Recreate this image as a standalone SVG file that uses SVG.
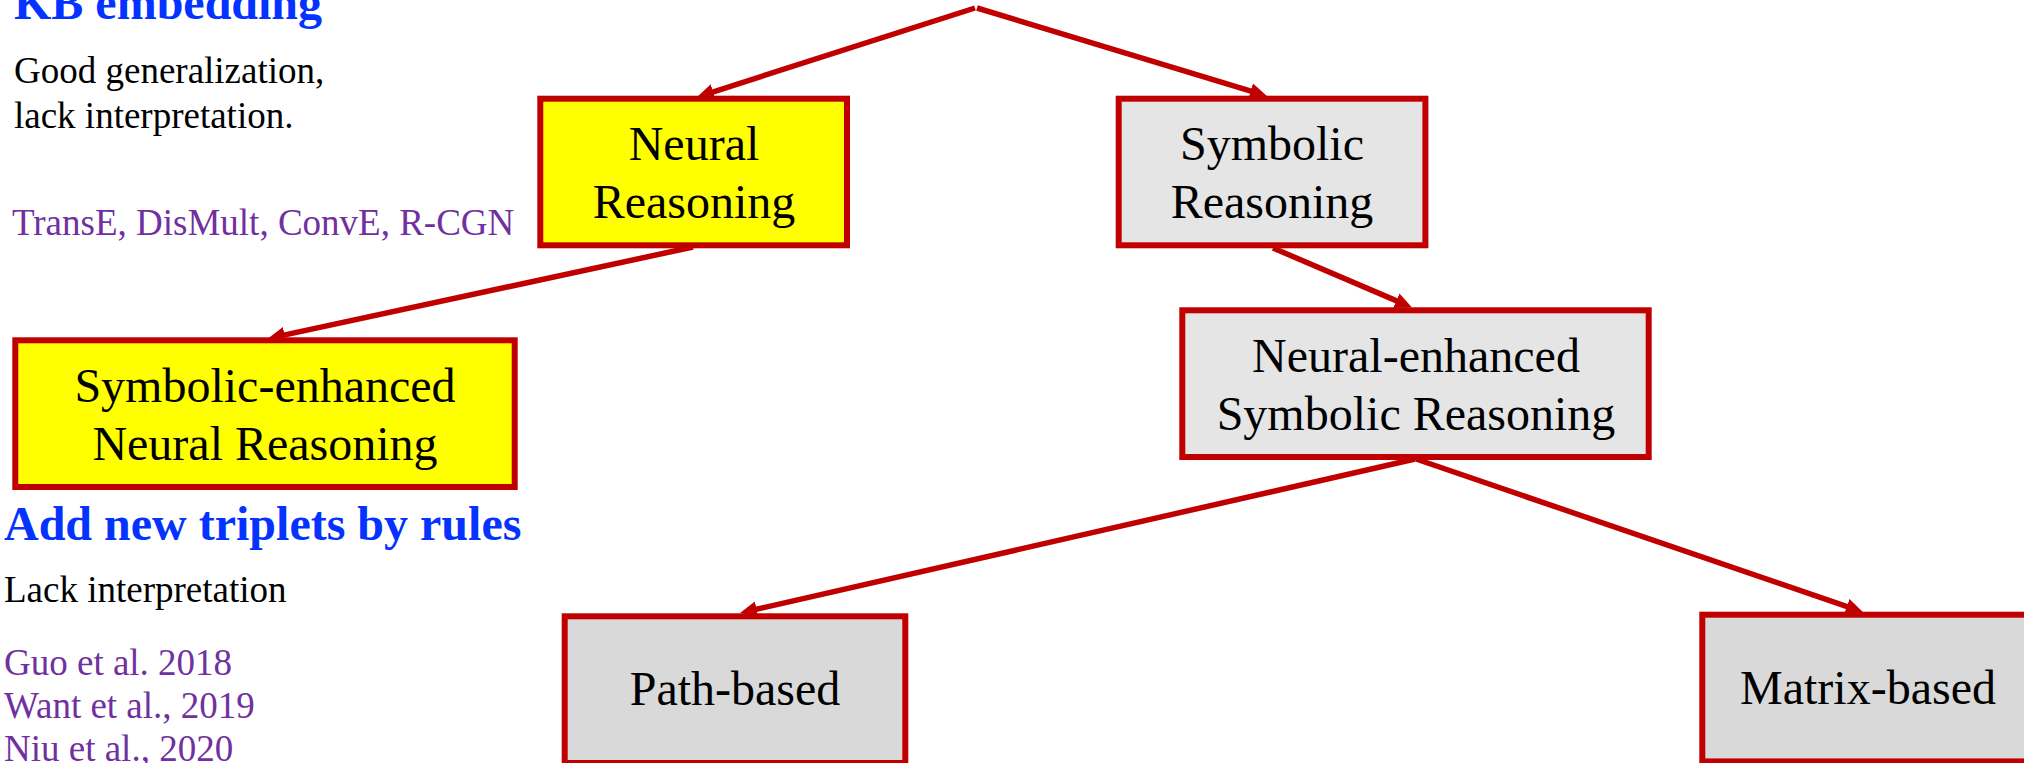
<svg xmlns="http://www.w3.org/2000/svg" width="2024" height="763" viewBox="0 0 2024 763">
<style>
text{font-family:"Liberation Serif","Times New Roman",serif;}
.node rect{stroke:#c00000;stroke-width:6;}
.yellow{fill:#ffff00;}
.gray1{fill:#e5e5e5;}
.gray2{fill:#d9d9d9;}
.lbl{font-size:48px;fill:#000;text-anchor:middle;}
.head{font-size:48px;font-weight:bold;fill:#0433ff;}
.note{font-size:37px;fill:#000;}
.ref{font-size:37px;fill:#7030a0;}
.conn line{stroke:#c00000;stroke-width:5.5;fill:none;marker-end:url(#ah);}
</style>
<defs>
<marker id="ah" markerUnits="userSpaceOnUse" markerWidth="20" markerHeight="18" refX="8" refY="8" orient="auto">
<path d="M0,0 L17,8 L0,16 z" fill="#c00000"/>
</marker>
</defs>
<rect width="2024" height="763" fill="#ffffff"/>

<g id="left-notes">
<text class="head" x="14" y="19">KB embedding</text>
<text class="note" x="14" y="83">Good generalization,</text>
<text class="note" x="14" y="127.5">lack interpretation.</text>
<text class="ref" x="12" y="235">TransE, DisMult, ConvE, R-CGN</text>
<text class="head" x="4" y="540">Add new triplets by rules</text>
<text class="note" x="4" y="601.5">Lack interpretation</text>
<text class="ref" x="4" y="675">Guo et al. 2018</text>
<text class="ref" x="4" y="718">Want et al., 2019</text>
<text class="ref" x="4" y="761">Niu et al., 2020</text>
</g>

<g id="node-neural" class="node">
<rect class="yellow" x="540.3" y="98.7" width="306.7" height="146.6"/>
<text class="lbl" x="694" y="160">Neural</text>
<text class="lbl" x="694" y="218">Reasoning</text>
</g>

<g id="node-symbolic" class="node">
<rect class="gray1" x="1118.7" y="98.7" width="306.7" height="146.6"/>
<text class="lbl" x="1272" y="160">Symbolic</text>
<text class="lbl" x="1272" y="218">Reasoning</text>
</g>

<g id="node-symbolic-enhanced" class="node">
<rect class="yellow" x="15.3" y="340.3" width="499.4" height="146.7"/>
<text class="lbl" x="265" y="401.7">Symbolic-enhanced</text>
<text class="lbl" x="265" y="460">Neural Reasoning</text>
</g>

<g id="node-neural-enhanced" class="node">
<rect class="gray1" x="1182.3" y="310.3" width="466.4" height="146.7"/>
<text class="lbl" x="1416" y="371.7">Neural-enhanced</text>
<text class="lbl" x="1416" y="430">Symbolic Reasoning</text>
</g>

<g id="node-path" class="node">
<rect class="gray2" x="564.7" y="616.3" width="340.6" height="146.7"/>
<text class="lbl" x="735" y="705">Path-based</text>
</g>

<g id="node-matrix" class="node">
<rect class="gray2" x="1702.3" y="614.7" width="340.6" height="146.7"/>
<text class="lbl" x="1868" y="704">Matrix-based</text>
</g>

<g id="connectors" class="conn">
<line x1="975" y1="8" x2="705.6" y2="94.3"/>
<line x1="977" y1="8" x2="1258.3" y2="93.4"/>
<line x1="693" y1="247" x2="276.8" y2="336.6"/>
<line x1="1273" y1="248" x2="1403.7" y2="303.9"/>
<line x1="1415" y1="459" x2="748.8" y2="611"/>
<line x1="1416" y1="459" x2="1854.4" y2="609.1"/>
</g>
</svg>
